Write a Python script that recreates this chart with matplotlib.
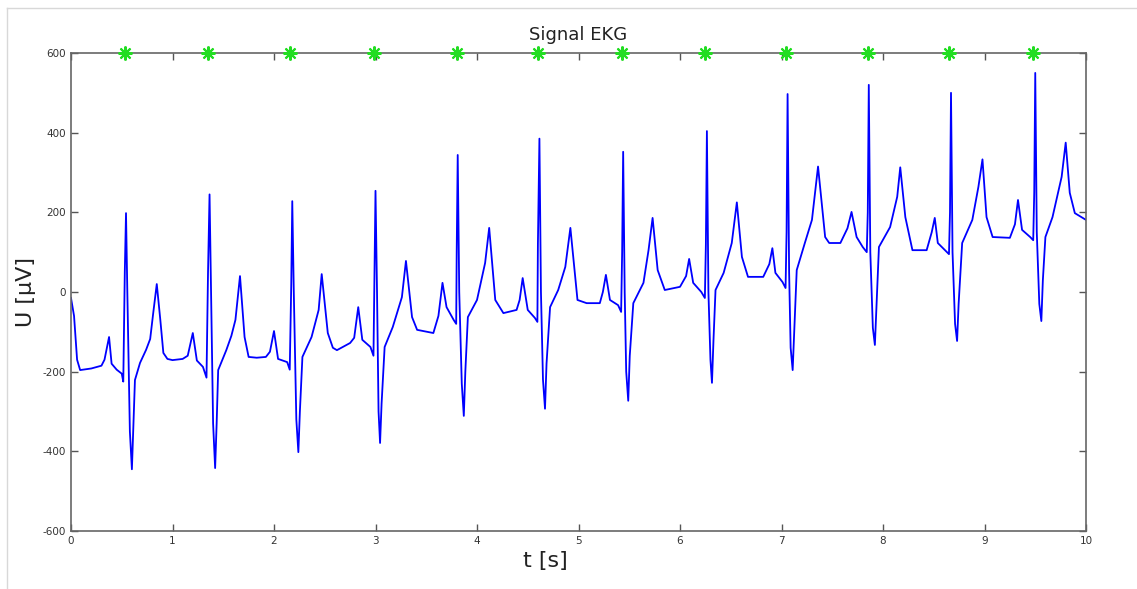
import numpy as np
import matplotlib
matplotlib.use("Agg")
import matplotlib.pyplot as plt
from matplotlib.lines import Line2D

plt.rcParams['axes.unicode_minus'] = False

# EKG trace, key points, one row per beat (t [s], U [uV])
beat_t = [
    [0.00, 0.03, 0.06, 0.09, 0.20, 0.30, 0.33, 0.375, 0.40, 0.45, 0.50, 0.515, 0.53, 0.542, 0.555, 0.58, 0.60, 0.615, 0.63, 0.68, 0.74, 0.78, 0.81, 0.845, 0.88, 0.91, 0.95, 1.00, 1.10],
    [1.15, 1.20, 1.24, 1.30, 1.335, 1.35, 1.365, 1.38, 1.40, 1.42, 1.435, 1.45, 1.53, 1.58, 1.62, 1.665, 1.71, 1.75, 1.83, 1.92],
    [1.96, 2.00, 2.04, 2.13, 2.155, 2.17, 2.18, 2.195, 2.22, 2.24, 2.255, 2.28, 2.37, 2.44, 2.47, 2.53, 2.58, 2.62, 2.75],
    [2.79, 2.83, 2.87, 2.95, 2.98, 2.99, 3.00, 3.015, 3.03, 3.045, 3.06, 3.09, 3.17, 3.26, 3.30, 3.36, 3.41, 3.57],
    [3.62, 3.66, 3.70, 3.77, 3.795, 3.80, 3.81, 3.825, 3.85, 3.87, 3.885, 3.91, 4.00, 4.08, 4.12, 4.18, 4.26, 4.39],
    [4.42, 4.45, 4.50, 4.57, 4.595, 4.60, 4.615, 4.63, 4.65, 4.67, 4.685, 4.72, 4.80, 4.87, 4.92, 4.99, 5.08, 5.21],
    [5.24, 5.27, 5.31, 5.39, 5.42, 5.43, 5.44, 5.455, 5.47, 5.49, 5.505, 5.54, 5.64, 5.69, 5.73, 5.78, 5.85, 6.00],
    [6.06, 6.09, 6.13, 6.21, 6.245, 6.255, 6.265, 6.28, 6.30, 6.315, 6.33, 6.35, 6.43, 6.51, 6.56, 6.61, 6.67, 6.82],
    [6.88, 6.91, 6.94, 7.01, 7.04, 7.05, 7.06, 7.075, 7.09, 7.11, 7.125, 7.15, 7.23, 7.30, 7.36, 7.43, 7.47, 7.58],
    [7.65, 7.69, 7.74, 7.80, 7.84, 7.85, 7.86, 7.875, 7.90, 7.92, 7.935, 7.96, 8.07, 8.14, 8.17, 8.22, 8.29, 8.43],
    [8.48, 8.51, 8.54, 8.61, 8.65, 8.66, 8.67, 8.685, 8.71, 8.73, 8.745, 8.78, 8.88, 8.94, 8.98, 9.02, 9.08, 9.25],
    [9.30, 9.33, 9.37, 9.45, 9.48, 9.49, 9.50, 9.515, 9.54, 9.56, 9.575, 9.60, 9.67, 9.76, 9.80, 9.84, 9.89, 10.00],
]
beat_u = [
    [-15, -60, -170, -196, -192, -185, -170, -113, -180, -195, -205, -225, 50, 198, 0, -350, -445, -330, -221, -178, -145, -118, -53, 20, -70, -153, -168, -171, -168],
    [-160, -103, -172, -188, -215, 50, 245, 0, -330, -442, -330, -196, -146, -110, -70, 40, -113, -163, -165, -163],
    [-150, -98, -168, -176, -195, 20, 228, 0, -320, -402, -300, -163, -113, -45, 45, -103, -140, -146, -128],
    [-115, -38, -120, -138, -160, 40, 254, 0, -300, -379, -280, -138, -88, -13, 78, -63, -95, -103],
    [-60, 23, -38, -70, -80, 100, 344, 0, -230, -311, -200, -63, -20, 73, 161, -20, -53, -45],
    [-20, 35, -45, -65, -75, 120, 385, 0, -220, -293, -180, -38, 5, 63, 161, -20, -28, -28],
    [0, 43, -20, -33, -50, 100, 352, 0, -200, -273, -160, -28, 23, 105, 186, 55, 5, 13],
    [40, 83, 23, 0, -15, 120, 404, 0, -170, -228, -120, 5, 48, 123, 225, 88, 38, 38],
    [70, 110, 48, 25, 10, 150, 497, 50, -140, -196, -100, 55, 123, 181, 315, 138, 123, 123],
    [160, 201, 138, 113, 100, 200, 520, 100, -90, -133, -40, 113, 163, 239, 313, 188, 105, 105],
    [150, 186, 123, 105, 95, 200, 500, 100, -80, -123, -30, 123, 181, 264, 333, 188, 138, 136],
    [170, 231, 156, 138, 130, 250, 550, 150, -30, -73, 30, 138, 188, 289, 375, 249, 198, 181],
]

# detected R peaks (green markers on the top edge)
star_t = [0.53, 1.35, 2.16, 2.99, 3.80, 4.60, 5.43, 6.25, 7.04, 7.85, 8.65, 9.48]
star_u = [600] * len(star_t)

x_ticks = list(range(0, 11))
y_ticks = [-600, -400, -200, 0, 200, 400, 600]

t = np.concatenate([np.array(b, float) for b in beat_t])
u = np.concatenate([np.array(b, float) for b in beat_u])

fig = plt.figure(figsize=(11.37, 5.89), dpi=100, facecolor='white')

# screenshot frame lines
fig.add_artist(Line2D([7/1137, 7/1137], [0, 1 - 8/589], color='#d8d8d8', lw=1))
fig.add_artist(Line2D([7/1137, 1], [1 - 8/589, 1 - 8/589], color='#d8d8d8', lw=1))

ax = fig.add_axes([71/1137, 1 - 531/589, (1086 - 71)/1137, (531 - 53)/589])
ax.plot(t, u, color='#0000ff', lw=1.3)
ax.plot(star_t, star_u, linestyle='none', marker=(8, 2, 0), ms=10, mew=1.5,
        color='#22dd22', clip_on=False, zorder=5)

ax.set_xlim(0, 10)
ax.set_ylim(-600, 600)
ax.set_xticks(x_ticks)
ax.set_yticks(y_ticks)
ax.tick_params(direction='in', length=5, width=1, colors='#555555',
               labelcolor='#333333', labelsize=7.5, top=True, right=True)
for s in ax.spines.values():
    s.set_color('#666666')
    s.set_linewidth(1.2)

ax.set_title('Signal EKG', fontsize=13, color='#222222', pad=9)
ax.set_xlabel('t [s]', fontsize=16, color='#222222')
ax.xaxis.set_label_coords((545 - 71)/1015, -0.042)
ax.set_ylabel('U [µV]', fontsize=16, color='#222222')
ax.yaxis.set_label_coords(-0.034, 0.5)

fig.savefig('out.png', dpi=100, facecolor='white')
